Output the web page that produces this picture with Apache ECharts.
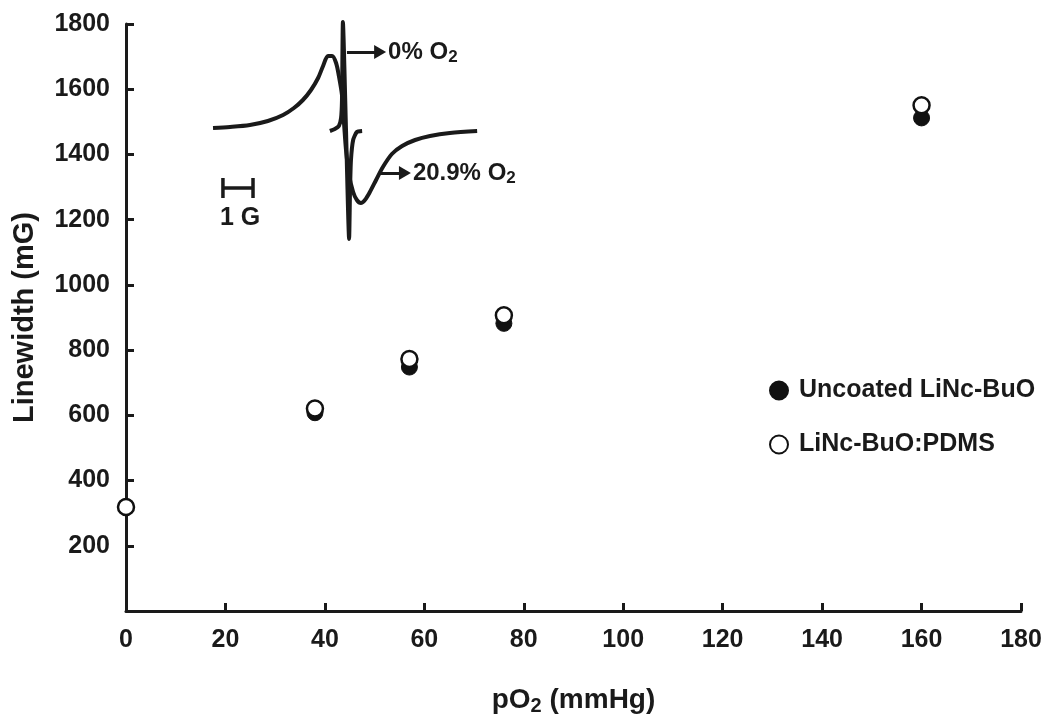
<!DOCTYPE html>
<html>
<head>
<meta charset="utf-8">
<script src="https://cdn.jsdelivr.net/npm/echarts@6/dist/echarts.min.js"></script>
<style>
html,body{margin:0;padding:0;background:#fff;}
#chart{width:1050px;height:728px;}
</style>
</head>
<body>
<div id="chart"></div>
<script>
// ---- main data ----
const pO2 = [0, 38, 57, 76, 160];
const uncoated = [320, 608, 748, 882, 1512];
const pdms = [319, 621, 773, 907, 1551];
const xTicks = [0, 20, 40, 60, 80, 100, 120, 140, 160, 180];
const yTicks = [200, 400, 600, 800, 1000, 1200, 1400, 1600, 1800];

// ---- inset EPR spectra (field in G, intensity arbitrary) ----
const broadField = [0.42,0.97,1.61,2.19,2.68,3.03,3.32,3.58,3.81,3.97,4.13,4.26,4.39,4.48,4.58,4.65,4.71,4.81,4.94,5.06,5.19,5.32,5.48,5.68,5.90,6.19,6.52,6.94,7.42,8.06,8.94];
const broadInt   = [0,1,3,7,13,20,28,38,50,62,72,72,65,52,33,3,-22,-47,-64,-72,-75,-72,-64,-52,-39,-26,-18,-12,-8,-5,-3];
const narrowField = [4.19,4.35,4.48,4.55,4.58,4.61,4.71,4.81,4.84,4.87,4.94,5.06,5.23];
const narrowInt   = [-3,-1,2,10,28,106,-2,-111,-62,-32,-12,-4,-3];

const FONT = "'Liberation Sans', Arial, Helvetica, sans-serif";
const INK = '#1a1a1a';

const chart = echarts.init(document.getElementById('chart'));
const zip = (a, b) => a.map((v, i) => [v, b[i]]);

chart.setOption({
  animation: false,
  backgroundColor: '#fff',
  textStyle: { fontFamily: FONT, fontWeight: 'bold', color: INK },
  grid: [
    { left: 126, right: 29, top: 24, bottom: 117 },
    { left: 200, top: 8, width: 310, height: 240 }
  ],
  xAxis: [
    {
      type: 'value', gridIndex: 0, min: 0, max: 180, interval: 20,
      axisLine: { lineStyle: { color: INK, width: 3 } },
      axisTick: { inside: true, length: 8, lineStyle: { color: INK, width: 3 } },
      splitLine: { show: false },
      axisLabel: { margin: 17, fontSize: 25, fontWeight: 'bold', fontFamily: FONT, color: INK },
      name: '{a|pO}{s|2}{a| (mmHg)}',
      nameLocation: 'middle', nameGap: 73,
      nameTextStyle: {
        rich: {
          a: { fontSize: 28, fontWeight: 'bold', fontFamily: FONT, color: INK },
          s: { fontSize: 20, fontWeight: 'bold', fontFamily: FONT, color: INK, verticalAlign: 'bottom', padding: [12, 0, 0, 0] }
        }
      }
    },
    {
      type: 'value', gridIndex: 1, min: 0, max: 10, show: false
    }
  ],
  yAxis: [
    {
      type: 'value', gridIndex: 0, min: 0, max: 1800, interval: 200,
      axisLine: { show: true, lineStyle: { color: INK, width: 3 } },
      axisTick: { show: true, inside: true, length: 8, lineStyle: { color: INK, width: 3 } },
      splitLine: { show: false },
      axisLabel: {
        margin: 16, fontSize: 25, fontWeight: 'bold', fontFamily: FONT, color: INK,
        formatter: v => (yTicks.indexOf(v) >= 0 ? String(v) : '')
      },
      name: 'Linewidth (mG)',
      nameLocation: 'middle', nameGap: 87,
      nameTextStyle: { fontSize: 29, fontWeight: 'bold', fontFamily: FONT, color: INK }
    },
    {
      type: 'value', gridIndex: 1, min: -120, max: 120, show: false
    }
  ],
  legend: {
    orient: 'vertical', left: 769, top: 378, padding: 0,
    itemWidth: 18, itemHeight: 18, itemGap: 29,
    icon: 'circle',
    textStyle: { fontSize: 25, fontWeight: 'bold', fontFamily: FONT, color: INK, padding: [0, 0, 0, 6] },
    data: ['Uncoated LiNc-BuO', 'LiNc-BuO:PDMS']
  },
  series: [
    {
      name: 'Uncoated LiNc-BuO', type: 'scatter', xAxisIndex: 0, yAxisIndex: 0,
      symbol: 'circle', symbolSize: 16,
      itemStyle: { color: '#111', borderColor: '#111', borderWidth: 1, opacity: 1 },
      data: zip(pO2, uncoated), z: 3
    },
    {
      name: 'LiNc-BuO:PDMS', type: 'scatter', xAxisIndex: 0, yAxisIndex: 0,
      symbol: 'circle', symbolSize: 16,
      itemStyle: { color: '#fff', borderColor: '#111', borderWidth: 2.5, opacity: 1 },
      data: zip(pO2, pdms), z: 4
    },
    {
      name: 'broad', type: 'line', xAxisIndex: 1, yAxisIndex: 1,
      smooth: 0.3, symbol: 'none',
      lineStyle: { color: INK, width: 4 },
      data: zip(broadField, broadInt),
      markLine: {
        silent: true, symbol: ['none', 'triangle'], symbolSize: [14, 12],
        lineStyle: { color: INK, width: 3, type: 'solid' },
        label: {
          show: true, position: 'end', distance: 8,
          formatter: p => p.name,
          rich: {
            a: { fontSize: 24, fontWeight: 'bold', fontFamily: FONT, color: INK },
            s: { fontSize: 17, fontWeight: 'bold', fontFamily: FONT, color: INK, verticalAlign: 'bottom', padding: [10, 0, 0, 0] }
          }
        },
        data: [
          [{ coord: [4.74, 76], name: '{a|0% O}{s|2}' }, { coord: [5.81, 76] }],
          [{ coord: [5.81, -45], name: '{a|20.9% O}{s|2}' }, { coord: [6.61, -45] }]
        ]
      }
    },
    {
      name: 'narrow', type: 'line', xAxisIndex: 1, yAxisIndex: 1,
      smooth: 0.2, symbol: 'none',
      lineStyle: { color: INK, width: 4 },
      data: zip(narrowField, narrowInt)
    },
    {
      name: 'scalebar', type: 'line', xAxisIndex: 1, yAxisIndex: 1,
      symbol: 'none',
      lineStyle: { color: INK, width: 3.5 },
      data: [[0.74, -50], [0.74, -70], [0.74, -60], [1.71, -60], [1.71, -50], [1.71, -70]]
    }
  ],
  graphic: [
    {
      type: 'text', left: 220, top: 206,
      style: { text: '1 G', font: "bold 25px 'Liberation Sans', Arial, sans-serif", fill: INK }
    }
  ]
});
</script>
</body>
</html>
